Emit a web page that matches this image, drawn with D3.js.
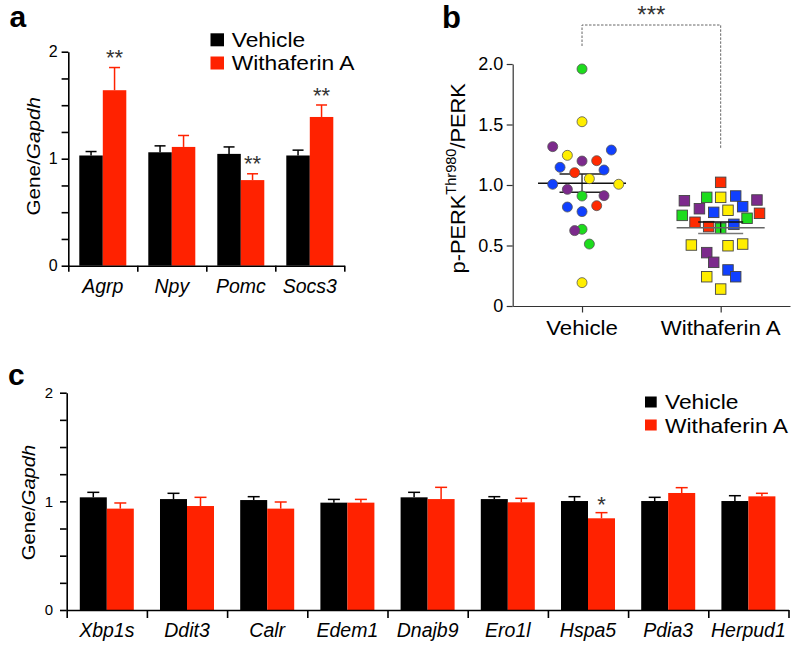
<!DOCTYPE html>
<html><head><meta charset="utf-8">
<script src="https://cdn.jsdelivr.net/npm/d3@7"></script>
<style>
body{margin:0;background:#fff}
svg{display:block}
text{font-family:"Liberation Sans", Arial, Helvetica, sans-serif}
</style>
</head><body>
<svg id="chart" width="800" height="646"></svg>
<script>
// ---------- DATA ----------
const groups = ["Vehicle", "Withaferin A"];

// Panel a
const aGenes = ["Agrp", "Npy", "Pomc", "Socs3"];
const aVehicle = [1.03, 1.06, 1.045, 1.03];
const aVehicleErr = [0.037, 0.06, 0.065, 0.05];
const aWithaferin = [1.64, 1.11, 0.80, 1.39];
const aWithaferinErr = [0.212, 0.107, 0.059, 0.112];
const aSig = ["**", "", "**", "**"];

// Panel c
const cGenes = ["Xbp1s", "Ddit3", "Calr", "Edem1", "Dnajb9", "Ero1l", "Hspa5", "Pdia3", "Herpud1"];
const cVehicle = [1.037, 1.021, 1.012, 0.988, 1.037, 1.021, 1.003, 1.003, 1.003];
const cVehicleErr = [0.046, 0.053, 0.031, 0.03, 0.046, 0.022, 0.04, 0.034, 0.049];
const cWithaferin = [0.933, 0.957, 0.933, 0.988, 1.021, 0.991, 0.844, 1.077, 1.046];
const cWithaferinErr = [0.052, 0.08, 0.061, 0.03, 0.108, 0.037, 0.052, 0.049, 0.028];
const cSig = ["", "", "", "", "", "", "*", "", ""];

// Panel b (p-PERK Thr980 / PERK), individual values, dot colour and swarm lane
const bVehicleValues = [1.959, 1.523, 1.317, 1.289, 1.245, 1.198, 1.201, 1.146, 1.102, 1.124, 1.052, 1.006, 1.006, 0.964, 0.909, 0.912, 0.818, 0.829, 0.780, 0.634, 0.623, 0.512, 0.193];
const bVehicleColors = ["green","yellow","purple","blue","yellow","purple","red","blue","red","blue","yellow","blue","yellow","purple","green","purple","blue","red","blue","green","purple","green","yellow"];
const bVehicleLanes = [0, 0, -4, 4, -2, 0, 2, -3, -1, 3, 1, -4, 5, -2, 0, 3, -2, 2, 0, 0, -1, 1, 0];
const bWithaferinValues = [1.022, 0.870, 0.898, 0.898, 0.909, 0.876, 0.804, 0.774, 0.791, 0.821, 0.749, 0.766, 0.725, 0.692, 0.656, 0.642, 0.675, 0.504, 0.498, 0.512, 0.441, 0.361, 0.298, 0.242, 0.242, 0.140];
const bWithaferinColors = ["red","purple","green","yellow","blue","purple","purple","blue","yellow","blue","green","red","green","red","red","green","blue","yellow","yellow","yellow","purple","purple","blue","yellow","blue","yellow"];
const bWithaferinLanes = [0, -4.95, -1.9, 0, 2.05, 4.95, -2.9, -0.95, 1, 3, -5.25, 5.3, 3.6, -3.5, -1.64, 0, 1.8, -4, 1, 3, -1.9, -0.95, 1, -1.9, 2.05, 0];
const bTicks = [0, 0.5, 1.0, 1.5, 2.0];
const bSig = "***";

// ---------- STYLE ----------
const barColors = {"Vehicle": "#000000", "Withaferin A": "#ff2200"};
const dotColors = {green: "#1ddc1d", yellow: "#ffee00", purple: "#7c2a8c", blue: "#1040ff", red: "#ff2a00"};
const FONT = '"Liberation Sans", Arial, Helvetica, sans-serif';

const svg = d3.select("#chart");

function txt(g, x, y, s, o = {}) {
  const t = g.append("text")
    .attr("transform", `translate(${x},${y})` + (o.rotate ? ` rotate(${o.rotate})` : "") + ` scale(${o.sx || 1},1)`)
    .attr("font-size", o.size || 16)
    .attr("text-anchor", o.anchor || "start")
    .attr("fill", o.fill || "#000");
  if (o.italic) t.attr("font-style", "italic");
  if (o.weight) t.attr("font-weight", o.weight);
  if (s !== null && s !== undefined) t.text(s);
  return t;
}

function styleAxis(g, stroke, width, fontSize) {
  g.attr("font-family", FONT).attr("font-size", fontSize);
  g.selectAll("path.domain").attr("stroke", stroke).attr("stroke-width", width);
  g.selectAll(".tick line").attr("stroke", stroke).attr("stroke-width", width);
  g.selectAll(".tick text").attr("fill", "#000");
}

// ---------- BAR PANEL ----------
function barPanel(cfg) {
  const g = svg.append("g");
  const n = cfg.genes.length;
  const x = d3.scaleBand().domain(cfg.genes).range([cfg.left, cfg.right]).padding(0);
  const sub = d3.scaleBand().domain(groups).range([0, x.bandwidth()]).paddingInner(0).paddingOuter(cfg.subPad);
  const y = d3.scaleLinear().domain([0, 2]).range([cfg.bottom, cfg.top]);

  const rows = [];
  cfg.genes.forEach((gene, i) => {
    rows.push({gene, group: groups[0], v: cfg.veh[i], e: cfg.vehErr[i], sig: ""});
    rows.push({gene, group: groups[1], v: cfg.wa[i], e: cfg.waErr[i], sig: cfg.sig[i]});
  });

  // error bars (drawn before bars; upper part stays visible)
  const eb = g.append("g");
  rows.forEach(d => {
    const cx = x(d.gene) + sub(d.group) + sub.bandwidth() / 2;
    eb.append("line").attr("x1", cx).attr("x2", cx).attr("y1", y(d.v)).attr("y2", y(d.v + d.e))
      .attr("stroke", barColors[d.group]).attr("stroke-width", 1.5);
    eb.append("line").attr("x1", cx - cfg.cap / 2).attr("x2", cx + cfg.cap / 2).attr("y1", y(d.v + d.e)).attr("y2", y(d.v + d.e))
      .attr("stroke", barColors[d.group]).attr("stroke-width", 1.5);
  });

  g.append("g").selectAll("rect").data(rows).join("rect")
    .attr("x", d => x(d.gene) + sub(d.group))
    .attr("width", sub.bandwidth())
    .attr("y", d => y(d.v))
    .attr("height", d => y(0) - y(d.v))
    .attr("fill", d => barColors[d.group]);

  // significance
  rows.filter(d => d.sig).forEach(d => {
    const cx = x(d.gene) + sub(d.group) + sub.bandwidth() / 2;
    txt(g, cx, y(d.v + d.e) - cfg.starGap + 0.575 * cfg.starSize, d.sig, {size: cfg.starSize, anchor: "middle", fill: "#333"});
  });

  // y axis
  const gy = g.append("g").attr("transform", `translate(${cfg.left},0)`)
    .call(d3.axisLeft(y).tickValues(d3.range(0, 2.001, 0.25)).tickFormat(d => Number.isInteger(d) ? d : "")
      .tickSize(cfg.tick).tickSizeOuter(0).tickPadding(cfg.tickPad));
  styleAxis(gy, "#000", 1.6, cfg.tickFont);

  // x axis with boundary ticks
  const xb = d3.scaleLinear().domain([0, n]).range([cfg.left, cfg.right]);
  const gx = g.append("g").attr("transform", `translate(0,${cfg.bottom})`)
    .call(d3.axisBottom(xb).tickValues(d3.range(n + 1)).tickFormat("").tickSize(cfg.xtick).tickSizeOuter(0));
  styleAxis(gx, "#000", 1.6, cfg.tickFont);

  // category labels
  cfg.genes.forEach(gene => {
    txt(g, x(gene) + x.bandwidth() / 2, cfg.labelBaseline, gene, {size: cfg.labelFont, anchor: "middle", italic: true});
  });

  // y label
  const yl = txt(g, cfg.ylabX, cfg.ylabY, null, {size: cfg.ylabFont, anchor: "middle", rotate: -90, sx: cfg.ylabSx});
  yl.append("tspan").text("Gene/");
  yl.append("tspan").attr("font-style", "italic").text("Gapdh");

  // legend
  const lg = g.append("g");
  groups.forEach((grp, i) => {
    lg.append("rect").attr("x", cfg.legX).attr("y", cfg.legY[i]).attr("width", cfg.legW).attr("height", cfg.legH)
      .attr("fill", barColors[grp]);
    txt(lg, cfg.legTextX, cfg.legBase[i], grp, {size: 20, sx: 1.14});
  });
}

barPanel({
  genes: aGenes, veh: aVehicle, vehErr: aVehicleErr, wa: aWithaferin, waErr: aWithaferinErr, sig: aSig,
  left: 68.3, right: 344.3, top: 51.7, bottom: 265.7, subPad: 0.468, cap: 11,
  tick: 6.7, tickPad: 4, tickFont: 16, xtick: 6,
  labelFont: 19.5, labelBaseline: 293.3,
  ylabX: 39.5, ylabY: 156.3, ylabFont: 18, ylabSx: 1.15,
  starSize: 22, starGap: 15,
  legX: 210.5, legY: [33.3, 56.5], legW: 13.5, legH: 13, legTextX: 231.7, legBase: [46.7, 70]
});

barPanel({
  genes: cGenes, veh: cVehicle, vehErr: cVehicleErr, wa: cWithaferin, waErr: cWithaferinErr, sig: cSig,
  left: 66.7, right: 788.5, top: 392.7, bottom: 610, subPad: 0.485, cap: 12,
  tick: 6.7, tickPad: 7, tickFont: 15, xtick: 8,
  labelFont: 19.5, labelBaseline: 636.7,
  ylabX: 34.5, ylabY: 502.5, ylabFont: 18, ylabSx: 1.12,
  starSize: 22, starGap: 13.4,
  legX: 645, legY: [396.5, 419.5], legW: 11.7, legH: 11, legTextX: 665, legBase: [409, 432.7]
});

// ---------- PANEL B ----------
(function () {
  const g = svg.append("g");
  const x = d3.scalePoint().domain(groups).range([512.7, 790]).padding(0.5);
  const y = d3.scaleLinear().domain([0, 2]).range([306, 64]);
  const lane = d3.scaleLinear().domain([0, 1]).range([0, 7.33]);
  const r = 5, s = 10.5;

  const vehicle = bVehicleValues.map((v, i) => ({v, c: bVehicleColors[i], l: bVehicleLanes[i]}));
  const wa = bWithaferinValues.map((v, i) => ({v, c: bWithaferinColors[i], l: bWithaferinLanes[i]}));

  function stats(arr) {
    const vals = arr.map(d => d.v);
    const m = d3.mean(vals);
    const sem = d3.deviation(vals) / Math.sqrt(vals.length);
    return {m, sem};
  }

  function meanLines(grp, st, colors) {
    const cx = x(grp);
    const lg = g.append("g");
    lg.append("line").attr("x1", cx).attr("x2", cx).attr("y1", y(st.m + st.sem)).attr("y2", y(st.m - st.sem))
      .attr("stroke", colors[0]).attr("stroke-width", 1.3);
    lg.append("line").attr("x1", cx - 44).attr("x2", cx + 44).attr("y1", y(st.m)).attr("y2", y(st.m))
      .attr("stroke", colors[1]).attr("stroke-width", 1.5);
    lg.append("line").attr("x1", cx - 22.5).attr("x2", cx + 22.5).attr("y1", y(st.m + st.sem)).attr("y2", y(st.m + st.sem))
      .attr("stroke", colors[0]).attr("stroke-width", 1.5);
    lg.append("line").attr("x1", cx - 22.5).attr("x2", cx + 22.5).attr("y1", y(st.m - st.sem)).attr("y2", y(st.m - st.sem))
      .attr("stroke", colors[2]).attr("stroke-width", 1.5);
  }

  // Vehicle: lines beneath the dots
  meanLines(groups[0], stats(vehicle), ["#222", "#111", "#222"]);
  g.append("g").selectAll("circle").data(vehicle).join("circle")
    .attr("cx", d => x(groups[0]) + lane(d.l))
    .attr("cy", d => y(d.v))
    .attr("r", r)
    .attr("fill", d => dotColors[d.c])
    .attr("stroke", "#555").attr("stroke-width", 0.8);

  g.append("g").selectAll("rect").data(wa).join("rect")
    .attr("x", d => x(groups[1]) + lane(d.l) - s / 2)
    .attr("y", d => y(d.v) - s / 2)
    .attr("width", s).attr("height", s)
    .attr("fill", d => dotColors[d.c])
    .attr("stroke", "#444").attr("stroke-width", 0.9);
  // Withaferin A: lines on top
  meanLines(groups[1], stats(wa), ["#111", "#666", "#777"]);

  // axes
  const gy = g.append("g").attr("transform", "translate(512.7,0)")
    .call(d3.axisLeft(y).tickValues(bTicks).tickFormat(d => d === 0 ? "0" : d3.format(".1f")(d))
      .tickSize(6).tickSizeOuter(0).tickPadding(3.5));
  styleAxis(gy, "#333", 1.2, 18);
  const gx = g.append("g").attr("transform", "translate(0,306)")
    .call(d3.axisBottom(x).tickSize(6.5).tickSizeOuter(0).tickFormat(""));
  styleAxis(gx, "#333", 1.2, 18);
  groups.forEach(grp => txt(g, x(grp), 335, grp, {size: 21, anchor: "middle", sx: 1.06}));

  // y label with superscript
  const yl = txt(g, 465, 178.3, null, {size: 21, anchor: "middle", rotate: -90, sx: 1.04});
  yl.append("tspan").text("p-PERK");
  yl.append("tspan").attr("font-size", 14).attr("dy", -9).text("Thr980");
  yl.append("tspan").attr("dy", 9).text("/PERK");

  // significance bracket
  const xl = x(groups[0]), xr = x(groups[1]);
  g.append("path")
    .attr("d", `M${xl},46V25H${xr}V148`)
    .attr("fill", "none").attr("stroke", "#666").attr("stroke-width", 1)
    .attr("stroke-dasharray", "2.5,1.5");
  txt(g, (xl + xr) / 2, 9.5 + 0.575 * 24, bSig, {size: 24, anchor: "middle", fill: "#333"});
})();

// ---------- PANEL LETTERS ----------
txt(svg, 9.5, 26.5, "a", {size: 30, weight: "bold"});
txt(svg, 442, 28, "b", {size: 31, weight: "bold"});
txt(svg, 8, 385, "c", {size: 30, weight: "bold"});
</script>
</body></html>
